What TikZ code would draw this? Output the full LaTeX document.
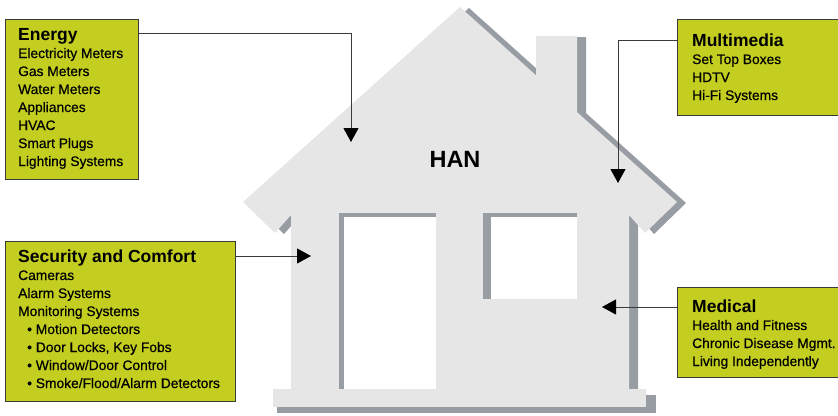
\documentclass[tikz,border=0pt]{standalone}
\usepackage{fontspec}
\setmainfont{Liberation Sans}
\newfontfamily\itemfont{Liberation Sans}[FakeBold=0.45]
\usetikzlibrary{arrows.meta,calc}
\definecolor{boxgreen}{HTML}{C3CE21}
\definecolor{housegray}{HTML}{E6E6E6}
\definecolor{shadowgray}{HTML}{979DA2}
\definecolor{linegray}{HTML}{3A3A3A}
\begin{document}
\begin{tikzpicture}[x=1pt,y=-1pt,
  infobox/.style={draw=linegray, line width=1pt, fill=boxgreen, anchor=north west, inner sep=0pt},
  ttl/.style={anchor=base west, inner sep=0pt, font=\fontsize{17.5}{20}\selectfont\bfseries},
  itm/.style={anchor=base west, inner sep=0pt, font=\itemfont\fontsize{13.8}{18}\selectfont},
  conn/.style={draw=linegray, line width=1pt, -{Triangle[length=14pt,width=15pt,color=black,fill=black]}},
]
\useasboundingbox (0,0) rectangle (838,415);
% house shadow
\path[fill=shadowgray, shift={(9,1)}] (460,7) -- (536,75.3) -- (536,36) -- (577,36) -- (577,112.1) -- (677,202) -- (645,233) -- (629,215) -- (629,389) -- (291,389) -- (291,215) -- (275,233) -- (243,202) -- cycle;
% house body
\path[fill=housegray] (460,7) -- (536,75.3) -- (536,36) -- (577,36) -- (577,112.1) -- (677,202) -- (645,233) -- (629,215) -- (629,389) -- (291,389) -- (291,215) -- (275,233) -- (243,202) -- cycle;
% door
\path[fill=shadowgray] (339,213) rectangle (436,389);
\path[fill=white] (344,217) rectangle (436,389);
% window
\path[fill=shadowgray] (483,213) rectangle (577,299);
\path[fill=white] (491,217) rectangle (577,299);
% base
\path[fill=shadowgray] (277,395) rectangle (656,413);
\path[fill=housegray] (273,389) rectangle (646,407);
\node[font=\fontsize{23.5}{26}\selectfont\bfseries, anchor=base, inner sep=0pt] (han) at (455,167) {HAN};

% boxes
\node[infobox, minimum width=133pt, minimum height=160pt] (energy) at (5,19) {};
\node[infobox, minimum width=175pt, minimum height=96pt] (media) at (677,19) {};
\node[infobox, minimum width=230pt, minimum height=160pt] (security) at (5,241) {};
\node[infobox, minimum width=175pt, minimum height=90pt] (medical) at (677,287) {};

% texts
\node[ttl] (eT) at (18,40) {Energy};
\foreach [count=\i] \t in {Electricity Meters,Gas Meters,Water Meters,Appliances,HVAC,Smart Plugs,Lighting Systems}
  \node[itm] (e\i) at (18,40+18*\i) {\t};
\node[ttl] (mT) at (692,46) {Multimedia};
\foreach [count=\i] \t in {Set Top Boxes,HDTV,Hi-Fi Systems}
  \node[itm] (m\i) at (692,46+18*\i) {\t};
\node[ttl] (sT) at (18,262) {Security and Comfort};
\foreach [count=\i] \t in {Cameras,Alarm Systems,Monitoring Systems}
  \node[itm] (s\i) at (18,262+18*\i) {\t};
\foreach [count=\i] \t in {Motion Detectors,{Door Locks, Key Fobs},Window/Door Control,Smoke/Flood/Alarm Detectors}
  \node[itm] (sb\i) at (27,316+18*\i) {\textbullet\ \t};
\node[ttl] (dT) at (692,312) {Medical};
\foreach [count=\i] \t in {Health and Fitness,Chronic Disease Mgmt.,Living Independently}
  \node[itm] (d\i) at (692,312+18*\i) {\t};

% connectors
\coordinate (eTip) at (351,142);
\coordinate (mTip) at (618,183);
\coordinate (sTip) at (311,256);
\coordinate (dTip) at (602,307);
\draw[conn] ($(energy.north east)+(0,14)$) -| (eTip);
\draw[conn] ($(media.north west)+(0,21)$) -| (mTip);
\draw[conn] ($(security.north east)+(0,15)$) -- (sTip);
\draw[conn] ($(medical.north west)+(0,20)$) -- (dTip);
\end{tikzpicture}
\end{document}
